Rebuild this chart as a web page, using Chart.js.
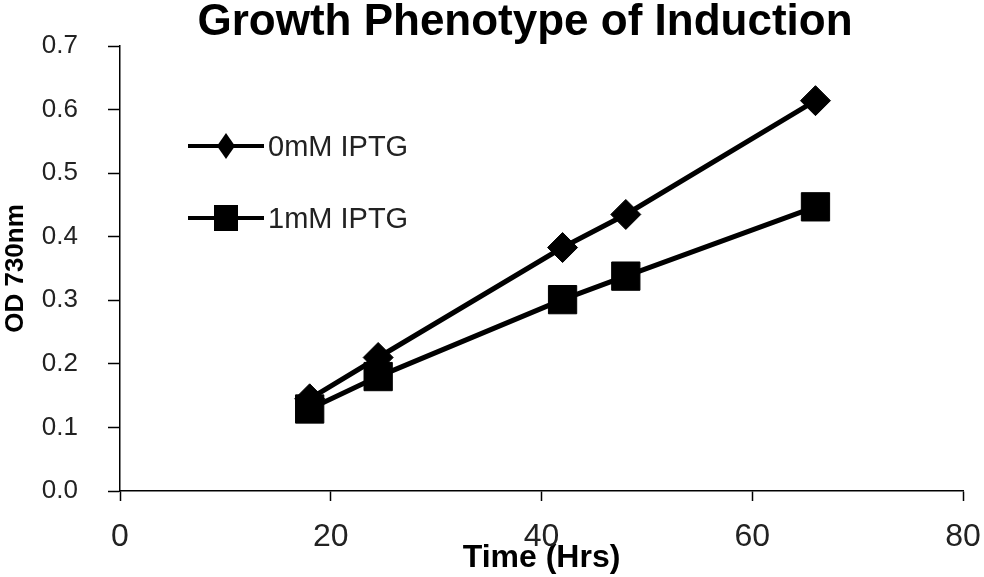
<!DOCTYPE html>
<html>
<head>
<meta charset="utf-8">
<script src="https://cdn.jsdelivr.net/npm/chart.js@4.4.1/dist/chart.umd.min.js"></script>
<style>
  html, body { margin: 0; padding: 0; background: #fff; }
  #wrap { width: 984px; height: 577px; position: relative; }
</style>
</head>
<body>
<div id="wrap"><canvas id="c" width="984" height="577"></canvas></div>
<script>
const chartTitle = "Growth Phenotype of Induction";
const xAxisTitle = "Time (Hrs)";
const yAxisTitle = "OD 730nm";
const timeHrs = [18, 24.5, 42, 48, 66];
const od0mM = [0.145, 0.21, 0.383, 0.435, 0.614];
const od1mM = [0.129, 0.18, 0.301, 0.338, 0.447];
const seriesLabels = ["0mM IPTG", "1mM IPTG"];
const xTickValues = [0, 20, 40, 60, 80];
const yTickValues = [0.0, 0.1, 0.2, 0.3, 0.4, 0.5, 0.6, 0.7];

const FONT = "'Liberation Sans', Arial, sans-serif";

const toPoints = (xs, ys) => xs.map((x, i) => ({ x: x, y: ys[i] }));

const titlePlugin = {
  id: 'customTitle',
  afterDraw(chart) {
    const ctx = chart.ctx;
    ctx.save();
    ctx.font = "bold 44px " + FONT;
    ctx.fillStyle = '#000';
    ctx.textAlign = 'center';
    ctx.textBaseline = 'middle';
    ctx.fillText(chartTitle, 525, 23);
    ctx.restore();
  }
};

const legendPlugin = {
  id: 'customLegend',
  afterDraw(chart) {
    const ctx = chart.ctx;
    const rows = [{ y: 146, style: 'diamond' }, { y: 218, style: 'square' }];
    ctx.save();
    chart.data.datasets.forEach((ds, i) => {
      const r = rows[i];
      ctx.strokeStyle = '#000';
      ctx.lineWidth = 4;
      ctx.beginPath();
      ctx.moveTo(188, r.y);
      ctx.lineTo(264, r.y);
      ctx.stroke();
      ctx.fillStyle = '#000';
      ctx.beginPath();
      if (r.style === 'diamond') {
        const cx = 226;
        ctx.moveTo(cx, r.y - 13);
        ctx.lineTo(cx + 9, r.y);
        ctx.lineTo(cx, r.y + 13);
        ctx.lineTo(cx - 9, r.y);
        ctx.closePath();
      } else {
        ctx.rect(226 - 12, r.y - 13, 24, 26);
      }
      ctx.fill();
      ctx.font = "29px " + FONT;
      ctx.fillStyle = '#222';
      ctx.textAlign = 'left';
      ctx.textBaseline = 'middle';
      ctx.fillText(ds.label, 268, r.y + 2);
    });
    ctx.restore();
  }
};

new Chart(document.getElementById('c'), {
  type: 'scatter',
  data: {
    datasets: [
      {
        label: seriesLabels[0],
        data: toPoints(timeHrs, od0mM),
        showLine: true,
        borderColor: '#000',
        backgroundColor: '#000',
        borderWidth: 5,
        pointStyle: 'rectRot',
        pointRadius: 15,
        pointHoverRadius: 15,
        pointBorderWidth: 1,
        pointBackgroundColor: '#000',
        pointBorderColor: '#000'
      },
      {
        label: seriesLabels[1],
        data: toPoints(timeHrs, od1mM),
        showLine: true,
        borderColor: '#000',
        backgroundColor: '#000',
        borderWidth: 5,
        pointStyle: 'rect',
        pointRadius: 20,
        pointHoverRadius: 20,
        pointBorderWidth: 1,
        pointBackgroundColor: '#000',
        pointBorderColor: '#000'
      }
    ]
  },
  options: {
    responsive: false,
    animation: false,
    layout: { padding: { left: 0, top: 46, right: 21, bottom: 0 } },
    plugins: {
      legend: { display: false },
      title: { display: false },
      tooltip: { enabled: false }
    },
    scales: {
      x: {
        type: 'linear',
        min: xTickValues[0],
        max: xTickValues[xTickValues.length - 1],
        afterBuildTicks: (s) => { s.ticks = xTickValues.map(v => ({ value: v })); },
        afterFit: (s) => { s.height = 86; s.paddingLeft = 0; s.paddingRight = 0; },
        border: { color: '#000', width: 1.5 },
        grid: { drawOnChartArea: false, drawTicks: true, tickLength: 10, tickColor: '#000', tickWidth: 1.5 },
        ticks: {
          font: { family: FONT, size: 32 },
          color: '#222',
          padding: 17,
          maxRotation: 0,
          callback: (v) => String(v)
        },
        title: {
          display: true,
          text: xAxisTitle,
          font: { family: FONT, size: 32, weight: 'bold' },
          color: '#000',
          padding: { top: 0, bottom: 0 }
        }
      },
      y: {
        type: 'linear',
        min: yTickValues[0],
        max: yTickValues[yTickValues.length - 1],
        afterBuildTicks: (s) => { s.ticks = yTickValues.map(v => ({ value: v })); },
        afterFit: (s) => { s.width = 120; s.paddingTop = 0; s.paddingBottom = 0; },
        border: { color: '#000', width: 1.5 },
        grid: { drawOnChartArea: false, drawTicks: true, tickLength: 12, tickColor: '#000', tickWidth: 1.5 },
        ticks: {
          font: { family: FONT, size: 26 },
          color: '#222',
          padding: 30,
          callback: (v) => Number(v).toFixed(1)
        },
        title: {
          display: true,
          text: yAxisTitle,
          font: { family: FONT, size: 26, weight: 'bold' },
          color: '#000',
          padding: { top: 0, bottom: 0 }
        }
      }
    }
  },
  plugins: [titlePlugin, legendPlugin]
});
</script>
</body>
</html>
